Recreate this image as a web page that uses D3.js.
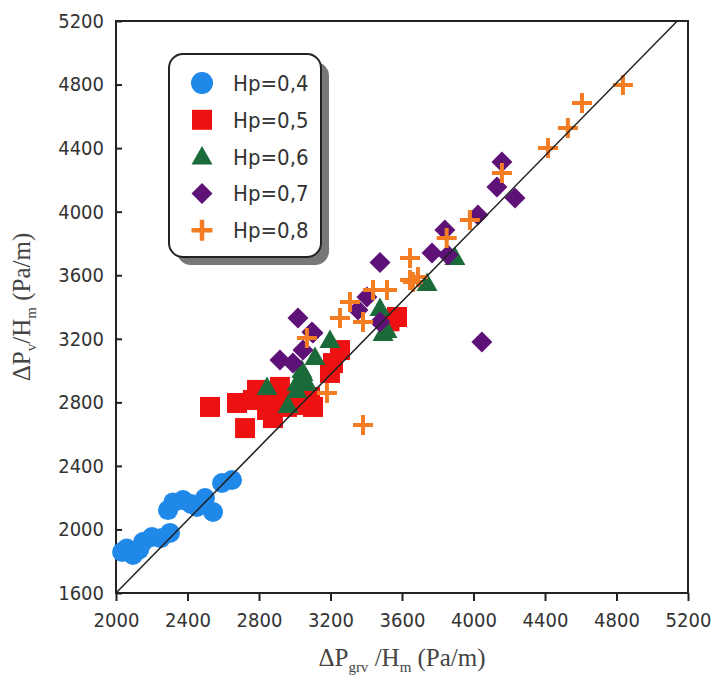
<!DOCTYPE html>
<html lang="en">
<head>
<meta charset="utf-8">
<script src="https://d3js.org/d3.v7.min.js"></script>
<style type="text/css">
body {
	margin: 0;
	background-color: #fff;
}
.axis text {
	font-family: "DejaVu Sans Condensed", "DejaVu Sans", sans-serif;
	font-stretch: condensed;
	font-size: 20px;
	fill: #333;
}
.axis line, .axis path {
	stroke: #222;
	stroke-width: 2;
}
.legend text {
	font-family: "DejaVu Sans Condensed", "DejaVu Sans", sans-serif;
	font-stretch: condensed;
	font-size: 22px;
	fill: #333;
}
.title {
	font-family: "Liberation Serif", "Times New Roman", serif;
	font-size: 25px;
	fill: #444;
}
</style>
</head>
<body>
<div class="chart"></div>
<script type="text/javascript">
// values: [dPgrv/Hm, dPv/Hm]
var hp04 = [[2034,1858],[2095,1839],[2060,1880],[2130,1875],[2151,1921],[2201,1952],[2250,1945],
	[2302,1978],[2291,2122],[2320,2170],[2375,2185],[2420,2160],[2453,2141],[2498,2198],
	[2543,2110],[2593,2292],[2649,2311]];
var hp05 = [[2526,2771],[2722,2638],[2677,2796],[2766,2815],[2789,2878],[2845,2752],[2878,2834],
	[2878,2701],[2917,2897],[2957,2771],[2985,2800],[3012,2834],[3029,2783],[3102,2771],
	[3085,2834],[3197,2985],[3214,3047],[3253,3129],[3572,3337],[3530,3310]];
var hp06 = [[2845,2897],[2962,2783],[3012,2878],[3012,2922],[3046,2985],[3068,2922],[3040,3004],
	[3113,3085],[3197,3192],[3477,3394],[3494,3236],[3516,3255],[3740,3551],[3896,3715]];
var hp07 = [[3018,3331],[2917,3067],[2990,3047],[3046,3129],[3102,3236],[3096,3243],[3354,3381],
	[3404,3463],[3477,3306],[3477,3680],[3768,3740],[3857,3727],[3840,3885],[4025,3979],
	[4159,4313],[4131,4155],[4232,4086],[4047,3180]];
var hp08 = [[3382,2657],[3180,2859],[3068,3205],[3253,3331],[3309,3432],[3382,3306],[3438,3507],
	[3516,3507],[3645,3708],[3645,3570],[3689,3589],[3661,3557],[3850,3834],[3980,3948],
	[4159,4243],[4417,4401],[4528,4527],[4607,4684],[4836,4797]];
var seriesNames = ["Hp=0,4", "Hp=0,5", "Hp=0,6", "Hp=0,7", "Hp=0,8"];
var seriesColors = ["#1f88e8", "#ee1111", "#1b6b3a", "#5e1277", "#f47c22"];
var xTicks = [2000, 2400, 2800, 3200, 3600, 4000, 4400, 4800, 5200];
var yTicks = [1600, 2000, 2400, 2800, 3200, 3600, 4000, 4400, 4800, 5200];
var fitLine = [[2000,1600],[5140,5200]];

var width = 718, height = 686;
var margin = {left: 116, top: 21};
var plotW = 572, plotH = 572;

var svg = d3.select(".chart").append("svg")
	.attr("width", width)
	.attr("height", height);

var x = d3.scaleLinear().domain([2000, 5200]).range([0, plotW]);
var y = d3.scaleLinear().domain([1600, 5200]).range([plotH, 0]);

var g = svg.append("g").attr("transform", "translate(" + margin.left + "," + margin.top + ")");

// frame
g.append("rect")
	.attr("width", plotW)
	.attr("height", plotH)
	.style("fill", "none")
	.style("stroke", "#222")
	.style("stroke-width", 2);

g.append("g")
	.attr("class", "x axis")
	.attr("transform", "translate(0," + plotH + ")")
	.call(d3.axisBottom(x).tickValues(xTicks).tickSize(8).tickPadding(12).tickFormat(d3.format("d")))
	.call(function(a) { a.select(".domain").remove(); });

g.append("g")
	.attr("class", "y axis")
	.call(d3.axisLeft(y).tickValues(yTicks).tickSize(-6).tickPadding(12).tickFormat(d3.format("d")))
	.call(function(a) { a.select(".domain").remove(); });

// marker shapes
function shape(i, s) {
	var h = s / 2;
	if (i == 0) return d3.symbol().type(d3.symbolCircle).size(Math.PI * h * h)();
	if (i == 1) return "M" + -h + "," + -h + "H" + h + "V" + h + "H" + -h + "Z";
	if (i == 2) return "M0," + (-h * 1.05) + "L" + (h * 1.05) + "," + (h * 0.8) + "L" + (-h * 1.05) + "," + (h * 0.8) + "Z";
	if (i == 3) return "M0," + -h + "L" + h + ",0L0," + h + "L" + -h + ",0Z";
	return "M" + -h + ",0H" + h + "M0," + -h + "V" + h;
}

var allSeries = [hp04, hp05, hp06, hp07, hp08];
var sizes = [20, 20, 20, 21, 20];

var plotArea = g.append("g");
allSeries.forEach(function(data, i) {
	plotArea.append("g")
		.selectAll("path")
		.data(data)
		.enter()
		.append("path")
		.attr("transform", function(d) { return "translate(" + x(d[0]) + "," + y(d[1]) + ")"; })
		.attr("d", shape(i, sizes[i]))
		.style("fill", i == 4 ? "none" : seriesColors[i])
		.style("stroke", i == 4 ? seriesColors[i] : "none")
		.style("stroke-width", i == 4 ? 4 : 0);
});

// reference line
g.append("line")
	.attr("x1", x(fitLine[0][0]))
	.attr("y1", y(fitLine[0][1]))
	.attr("x2", x(fitLine[1][0]))
	.attr("y2", y(fitLine[1][1]))
	.style("stroke", "#222")
	.style("stroke-width", 1.5);

// legend
var legend = svg.append("g").attr("class", "legend").attr("transform", "translate(169,54)");
legend.append("rect")
	.attr("x", 8).attr("y", 8)
	.attr("width", 152).attr("height", 203)
	.attr("rx", 14)
	.style("fill", "#777");
legend.append("rect")
	.attr("width", 152).attr("height", 203)
	.attr("rx", 14)
	.style("fill", "#fff")
	.style("stroke", "#222")
	.style("stroke-width", 2);

var item = legend.selectAll(".item")
	.data(seriesNames)
	.enter()
	.append("g")
	.attr("class", "item")
	.attr("transform", function(d, i) { return "translate(0," + (29 + i * 36.8) + ")"; });

item.append("path")
	.attr("transform", "translate(33,0)")
	.attr("d", function(d, i) { return shape(i, [22, 20, 20, 21, 21][i]); })
	.style("fill", function(d, i) { return i == 4 ? "none" : seriesColors[i]; })
	.style("stroke", function(d, i) { return i == 4 ? seriesColors[i] : "none"; })
	.style("stroke-width", function(d, i) { return i == 4 ? 4.5 : 0; });

item.append("text")
	.attr("x", 64)
	.attr("dy", "0.36em")
	.text(function(d) { return d; });

// axis titles
var xt = svg.append("text")
	.attr("class", "title")
	.attr("x", 402)
	.attr("y", 666)
	.attr("text-anchor", "middle");
xt.append("tspan").text("\u0394P");
xt.append("tspan").attr("dy", 6).style("font-size", "15px").text("grv");
xt.append("tspan").attr("dy", -6).text(" /H");
xt.append("tspan").attr("dy", 6).style("font-size", "15px").text("m");
xt.append("tspan").attr("dy", -6).text(" (Pa/m)");

var yt = svg.append("text")
	.attr("class", "title")
	.attr("transform", "translate(30,307) rotate(-90)")
	.attr("text-anchor", "middle");
yt.append("tspan").text("\u0394P");
yt.append("tspan").attr("dy", 6).style("font-size", "15px").text("v");
yt.append("tspan").attr("dy", -6).text("/H");
yt.append("tspan").attr("dy", 6).style("font-size", "15px").text("m");
yt.append("tspan").attr("dy", -6).text(" (Pa/m)");
</script>
</body>
</html>
